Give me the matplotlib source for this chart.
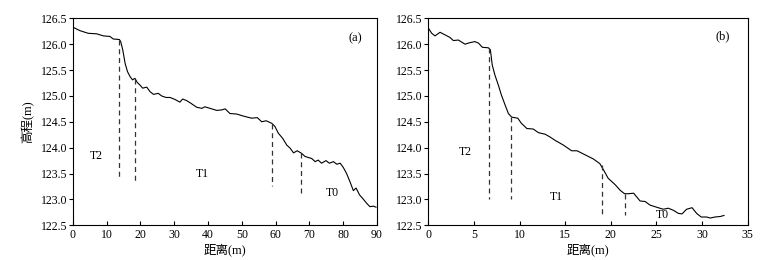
import matplotlib
matplotlib.use("Agg")
import matplotlib.pyplot as plt

plt.rcParams['font.family'] = ['Liberation Serif', 'Noto Sans CJK SC']
plt.rcParams['font.size'] = 8

# profile (a)
xa = [0, 2.2, 4.6, 7.1, 9.1, 11, 12, 13.8, 14.2, 14.8, 15.5, 16.2, 17, 17.7, 18.4,
      19.1, 19.9, 20.7, 21.9, 22.9, 23.9, 25.3, 26.3, 27.6, 28.8, 30.3, 31.7, 32.5,
      33.7, 34.9, 36.7, 38.2, 39.1, 40.6, 42.6, 44.1, 45.1, 46.5, 48.5, 50.5, 52.9,
      54.6, 55.9, 57.2, 58.9, 59.8, 60.8, 62.1, 63.3, 64.3, 65.3, 66.4, 67.7, 68.7,
      70.7, 71.7, 72.6, 73.6, 74.9, 75.9, 77.1, 78.1, 79.1, 80.0, 81.0, 82.0, 83.0,
      83.8, 84.8, 86.0, 87.0, 87.9, 88.9, 89.7]
ya = [126.33, 126.26, 126.21, 126.20, 126.16, 126.15, 126.10, 126.09, 126.05, 125.89,
      125.63, 125.47, 125.37, 125.31, 125.34, 125.26, 125.21, 125.15, 125.17, 125.08,
      125.03, 125.05, 125.00, 124.97, 124.97, 124.93, 124.88, 124.94, 124.91, 124.86,
      124.78, 124.76, 124.79, 124.76, 124.72, 124.73, 124.75, 124.66, 124.65, 124.61,
      124.57, 124.58, 124.50, 124.52, 124.47, 124.41, 124.28, 124.18, 124.05, 123.99,
      123.90, 123.94, 123.89, 123.83, 123.79, 123.73, 123.76, 123.70, 123.75, 123.70,
      123.73, 123.68, 123.70, 123.62, 123.50, 123.34, 123.17, 123.22, 123.09, 123.00,
      122.92, 122.86, 122.87, 122.85]

# profile (b)
xb = [0, 0.37, 0.73, 1.28, 1.83, 2.37, 2.74, 3.29, 4.02, 4.57, 5.1, 5.5, 5.92, 6.58,
      6.8, 7.0, 7.3, 7.67, 8.0, 8.4, 8.77, 9.13, 9.8, 10.2, 10.8, 11.5, 12.06, 12.8,
      13.3, 13.9, 14.8, 15.7, 16.3, 17.2, 18.1, 18.8, 19.2, 19.7, 20.5, 21.0, 21.5,
      21.9, 22.5, 23.2, 23.75, 24.3, 25.0, 25.75, 26.3, 26.85, 27.4, 27.8, 28.3, 28.9,
      29.4, 29.9, 30.5, 30.9, 31.4, 32.0, 32.4]
yb = [126.31, 126.21, 126.16, 126.23, 126.18, 126.13, 126.07, 126.08, 126.00, 126.03,
      126.05, 126.02, 125.94, 125.93, 125.89, 125.60, 125.40, 125.21, 125.02, 124.83,
      124.66, 124.59, 124.57, 124.47, 124.37, 124.36, 124.29, 124.26, 124.21, 124.14,
      124.05, 123.94, 123.94, 123.86, 123.78, 123.69, 123.57, 123.41, 123.28, 123.18,
      123.11, 123.11, 123.12, 122.97, 122.96, 122.89, 122.85, 122.81, 122.83, 122.79,
      122.73, 122.72, 122.81, 122.84, 122.73, 122.66, 122.66, 122.64, 122.66, 122.67,
      122.69]

# terrace boundaries: x, top, bottom
bounds_a = [(13.7, 126.08, 123.38), (18.5, 125.32, 123.36),
            (59.0, 124.46, 123.25), (67.5, 123.90, 123.12)]
bounds_b = [(6.7, 125.93, 123.0), (9.1, 124.59, 123.0),
            (19.0, 123.66, 122.70), (21.6, 123.11, 122.70)]

labels_a = [("T2", 7.1, 123.83), ("T1", 38.2, 123.5), ("T0", 76.8, 123.12)]
labels_b = [("T2", 4.0, 123.91), ("T1", 14.0, 123.05), ("T0", 25.6, 122.70)]

fig = plt.figure(figsize=(7.75, 2.6), dpi=100)
ax1 = fig.add_axes([0.0938, 0.1335, 0.3927, 0.7961])
ax2 = fig.add_axes([0.5527, 0.1335, 0.4121, 0.7961])

panels = [(ax1, xa, ya, bounds_a, labels_a, "(a)", (83.5, 126.11), 90, 10),
          (ax2, xb, yb, bounds_b, labels_b, "(b)", (32.3, 126.15), 35, 5)]

for ax, x, y, bounds, labels, tag, tagpos, xmax, xstep in panels:
    ax.plot(x, y, color='black', lw=0.8)
    for bx, top, bot in bounds:
        ax.plot([bx, bx], [top, bot], color='#333333', lw=0.9, ls=(0, (4, 3)))
    for t, lx, ly in labels:
        ax.text(lx, ly, t, ha='center', va='center', fontsize=8.5)
    ax.text(tagpos[0], tagpos[1], tag, ha='center', va='center', fontsize=9)
    ax.set_xlim(0, xmax)
    ax.set_ylim(122.5, 126.5)
    ax.set_xticks(range(0, xmax + 1, xstep))
    ax.set_yticks([122.5, 123.0, 123.5, 124.0, 124.5, 125.0, 125.5, 126.0, 126.5])
    ax.set_yticklabels(["%.1f" % v for v in ax.get_yticks()])
    ax.tick_params(axis='x', direction='in', length=3, width=0.8, labelsize=8.5, pad=3)
    ax.tick_params(axis='y', direction='out', length=3, width=0.8, labelsize=8.5, pad=1)
    for s in ax.spines.values():
        s.set_linewidth(0.8)
    ax.set_xlabel("距离(m)", fontsize=9, labelpad=1)

ax1.set_ylabel("高程(m)", fontsize=9, labelpad=4)

fig.savefig("out.png", dpi=100)
